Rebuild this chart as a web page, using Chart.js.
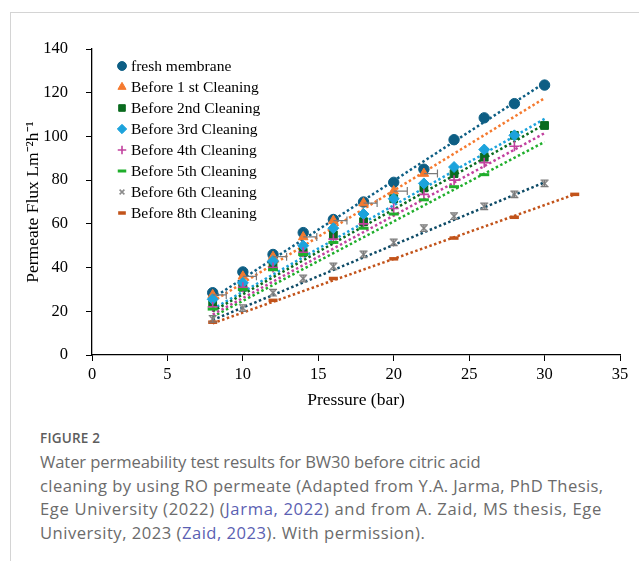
<!DOCTYPE html>
<html>
<head>
<meta charset="utf-8">
<script src="https://cdn.jsdelivr.net/npm/chart.js@4.4.1/dist/chart.umd.min.js"></script>
<style>
    body { margin: 0; background: #fff; width: 639px; height: 561px; overflow: hidden; position: relative; }
    .card { position: absolute; left: 10px; top: 12px; width: 640px; height: 560px; border-left: 1px solid #d4d4d4; border-top: 1px solid #d4d4d4; }
    #wrap { position: absolute; left: 0; top: 0; width: 639px; height: 415px; }
    .caption { position: absolute; left: 40px; top: 428px; width: 599px; font-family: "Open Sans", "Noto Sans", sans-serif; color: #6b6b6b; }
    .fig { font-size: 13.5px; font-weight: 600; color: #5d5d5d; letter-spacing: 0.2px; line-height: 20px; }
    .txt { font-size: 16.6px; line-height: 23.5px; margin-top: 2px; white-space: nowrap; }
    .txt div { height: 23.5px; }
    .txt a { color: #5b5fb3; text-decoration: none; }
</style>
</head>
<body>
<div class="card"></div>
<div id="wrap"><canvas id="fluxChart" width="639" height="415"></canvas></div>
<div class="caption">
    <div class="fig">FIGURE 2</div>
    <div class="txt">
        <div style="letter-spacing:-0.1px">Water permeability test results for BW30 before citric acid</div>
        <div style="letter-spacing:0.4px">cleaning by using RO permeate (Adapted from Y.A. Jarma, PhD Thesis,</div>
        <div style="letter-spacing:0.65px">Ege University (2022) (<a>Jarma, 2022</a>) and from A. Zaid, MS thesis, Ege</div>
        <div style="letter-spacing:0.5px">University, 2023 (<a>Zaid, 2023</a>). With permission).</div>
    </div>
</div>
<script>
// Pressure values (bar)
const pressure = [8, 10, 12, 14, 16, 18, 20, 22, 24, 26, 28, 30];
const pressure8th = [8, 12, 16, 20, 24, 28, 32];

// Permeate flux values
const fluxFresh = [28.5, 38, 46, 56, 62, 70, 79, 85, 98.5, 108.5, 115, 123.5];
const flux1st = [27.5, 36, 45, 54, 61.5, 69.5, 75, 83];
const flux2nd = [24, 31, 41, 47, 55, 61, 71.5, 76.5, 83, 90.5, 100.5, 105];
const flux3rd = [25.5, 33, 43, 50, 58, 64.5, 71.5, 78.5, 86, 94, 100.5];
const flux4th = [22, 31, 40, 47, 53, 60, 67, 73.5, 80, 88, 95.5];
const flux5th = [21, 30, 39, 46, 51.5, 58, 64.5, 71, 77, 82.5];
const flux6th = [16.5, 21.5, 28.5, 35, 40.5, 46, 51.5, 58, 63.5, 68, 73.5, 78.5];
const flux8th = [15, 25, 35, 44, 53.5, 63, 73.5];

// error bars
const err6th = [1.5, 1.5, 1.5, 1.5, 1.5, 1.5, 1.5, 1.5, 1.5, 1.5, 1.5, 1.5];
const err1stX = [0.9, 0.9, 0.9, 0.9, 0.9, 0.9, 0.9, 0.9];

// Trend line end points
const trendX = [8, 30];
const trendX8th = [8, 32];
const trendFresh = [26, 124.5];
const trend1st = [24.5, 117.5];
const trend2nd = [20, 105.5];
const trend3rd = [21, 108];
const trend4th = [18.5, 101.5];
const trend5th = [17.5, 97.5];
const trend6th = [16, 79];
const trend8th = [14.5, 73.5];

const legendNames = ['fresh membrane', 'Before 1 st Cleaning', 'Before 2nd Cleaning', 'Before 3rd Cleaning',
    'Before 4th Cleaning', 'Before 5th Cleaning', 'Before 6th Cleaning', 'Before 8th Cleaning'];

const colors = ['#0d5e84', '#f57a2f', '#0a6b1f', '#1ca3dc', '#c2429f', '#1fae2b', '#8c8c8c', '#c2531a'];
const trendColors = ['#0d5e84', '#f57a2f', '#0a6b1f', '#1ca3dc', '#c2429f', '#1fae2b', '#0d4a66', '#c2531a'];

const serif = '"Liberation Serif", "Times New Roman", serif';
Chart.defaults.font.family = serif;

function pts(xs, ys) { return ys.map((y, i) => ({ x: xs[i], y: y })); }

const series = [
    { data: pts(pressure, fluxFresh), style: 'circle', r: 5.2, w: 1 },
    { data: pts(pressure, flux1st), style: 'triangle', r: 5.5, w: 1, errX: err1stX },
    { data: pts(pressure, flux2nd), style: 'rect', r: 5.5, w: 1 },
    { data: pts(pressure, flux3rd), style: 'rectRot', r: 5.5, w: 1 },
    { data: pts(pressure, flux4th), style: 'cross', r: 5, w: 1.6 },
    { data: pts(pressure, flux5th), style: 'line', r: 5, w: 3 },
    { data: pts(pressure, flux6th), style: 'crossRot', r: 4, w: 1.6, errY: err6th },
    { data: pts(pressure8th, flux8th), style: 'line', r: 4.5, w: 3.5 }
];
const trends = [
    pts(trendX, trendFresh), pts(trendX, trend1st), pts(trendX, trend2nd), pts(trendX, trend3rd),
    pts(trendX, trend4th), pts(trendX, trend5th), pts(trendX, trend6th), pts(trendX8th, trend8th)
];

const datasets = [];
series.forEach((s, i) => {
    datasets.push({
        label: legendNames[i],
        data: s.data,
        showLine: false,
        pointStyle: s.style,
        pointRadius: s.r,
        pointBorderWidth: s.w,
        backgroundColor: colors[i],
        borderColor: colors[i],
        errY: s.errY,
        errX: s.errX,
        order: 20 - i
    });
});
trends.forEach((t, i) => {
    datasets.push({
        label: 'trend' + i,
        data: t,
        showLine: true,
        pointRadius: 0,
        borderColor: trendColors[i],
        borderWidth: 2.5,
        borderDash: [2.5, 2.5],
        borderCapStyle: 'butt',
        order: 50
    });
});

// draws error bars for datasets with errY / errX
const errorBars = {
    id: 'errorBars',
    afterDatasetsDraw(chart) {
        const ctx = chart.ctx;
        const xs = chart.scales.x, ys = chart.scales.y;
        ctx.save();
        ctx.strokeStyle = '#7a7a7a';
        ctx.lineWidth = 1.2;
        chart.data.datasets.forEach(ds => {
            ds.data.forEach((p, i) => {
                const px = xs.getPixelForValue(p.x), py = ys.getPixelForValue(p.y);
                if (ds.errY) {
                    const t = ys.getPixelForValue(p.y + ds.errY[i]), b = ys.getPixelForValue(p.y - ds.errY[i]);
                    ctx.beginPath();
                    ctx.moveTo(px, t); ctx.lineTo(px, b);
                    ctx.moveTo(px - 4, t); ctx.lineTo(px + 4, t);
                    ctx.moveTo(px - 4, b); ctx.lineTo(px + 4, b);
                    ctx.stroke();
                }
                if (ds.errX) {
                    const r = xs.getPixelForValue(p.x + ds.errX[i]);
                    ctx.beginPath();
                    ctx.moveTo(px, py); ctx.lineTo(r, py);
                    ctx.moveTo(r, py - 4); ctx.lineTo(r, py + 4);
                    ctx.stroke();
                }
            });
        });
        ctx.restore();
    }
};

// legend drawn inside the plot area
const innerLegend = {
    id: 'innerLegend',
    afterDraw(chart) {
        const ctx = chart.ctx;
        ctx.save();
        ctx.font = '15.5px ' + serif;
        ctx.textBaseline = 'middle';
        series.forEach((s, i) => {
            const y = 66 + i * 21;
            ctx.fillStyle = colors[i];
            ctx.strokeStyle = colors[i];
            ctx.lineWidth = s.w;
            Chart.helpers.drawPoint(ctx, { pointStyle: s.style, radius: s.r * 0.85, borderWidth: s.w }, 122, y);
            ctx.fillStyle = '#000';
            ctx.fillText(legendNames[i], 131, y + 1);
        });
        ctx.restore();
    }
};

const tickFont = { family: serif, size: 16.5 };
const titleFont = { family: serif, size: 17.5 };

new Chart(document.getElementById('fluxChart'), {
    type: 'scatter',
    data: { datasets },
    options: {
        responsive: false,
        animation: false,
        layout: { padding: { top: 49, right: 19, left: 23, bottom: 0 } },
        plugins: { legend: { display: false }, tooltip: { enabled: false } },
        scales: {
            x: {
                type: 'linear',
                min: 0, max: 35,
                ticks: { stepSize: 5, color: '#000', font: tickFont, padding: 4 },
                grid: { drawOnChartArea: false, drawTicks: true, tickLength: 6, color: '#000' },
                border: { display: true, color: '#000', width: 1.3 },
                title: { display: true, text: 'Pressure (bar)', color: '#000', font: titleFont, padding: { top: 0 } },
                afterFit: s => { s.height = 60; }
            },
            y: {
                type: 'linear',
                min: 0, max: 140,
                ticks: { stepSize: 20, color: '#000', font: tickFont, padding: 18 },
                grid: { drawOnChartArea: false, drawTicks: true, tickLength: 6, color: '#000' },
                border: { display: true, color: '#000', width: 1.3 },
                title: { display: true, text: 'Permeate Flux Lm⁻²h⁻¹', color: '#000', font: titleFont, padding: { top: 0, bottom: 0 } },
                afterFit: s => { s.width = 69; }
            }
        }
    },
    plugins: [errorBars, innerLegend]
});
</script>
</body>
</html>
